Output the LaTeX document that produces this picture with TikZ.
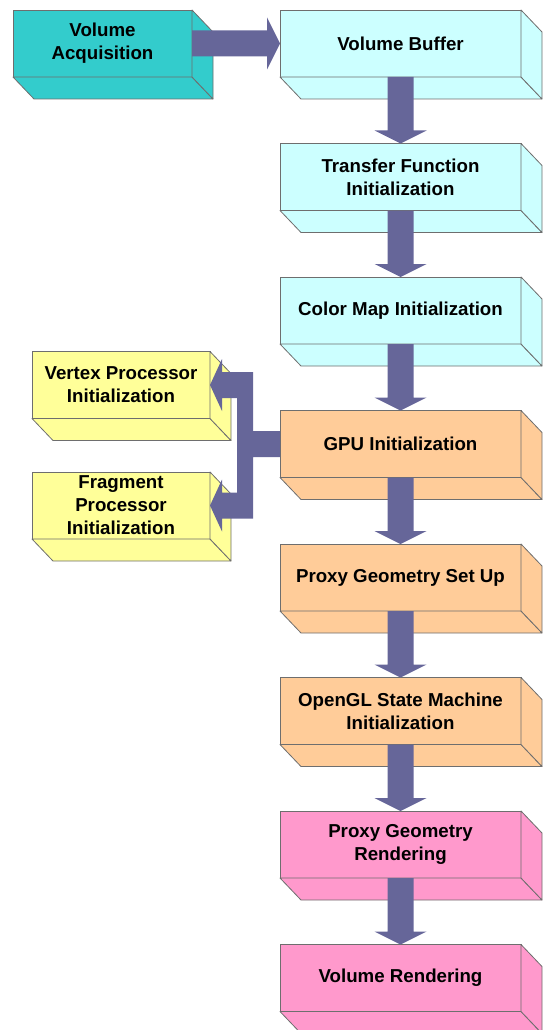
\documentclass[tikz,border=0pt]{standalone}
\usepackage{fontspec}
\setmainfont{Liberation Sans}
\usetikzlibrary{calc}
\definecolor{teal3}{HTML}{33CCCC}
\definecolor{cyan3}{HTML}{CCFFFF}
\definecolor{orng3}{HTML}{FFCC99}
\definecolor{yell3}{HTML}{FFFF99}
\definecolor{pink3}{HTML}{FF99CC}
\definecolor{arrc}{HTML}{666699}
\definecolor{edgec}{HTML}{6E6E6E}
\tikzset{
  box/.style={draw=edgec, line width=0.8pt, inner sep=0pt, outer sep=0pt,
    minimum width=241pt, minimum height=67pt, align=center,
    font=\bfseries\fontsize{18.7}{23}\selectfont},
  lbox/.style={box, minimum width=178pt},
  face/.style={draw=edgec, line width=0.8pt, line join=round},
  arr/.style={fill=arrc},
}
\newcommand\cubefaces[2]{%
  \filldraw[face,fill=#2] (#1.south west) -- (#1.south east)
    -- ([shift={(21pt,-22pt)}]#1.south east) -- ([shift={(21pt,-22pt)}]#1.south west) -- cycle;
  \filldraw[face,fill=#2] (#1.north east) -- ([shift={(21pt,-22pt)}]#1.north east)
    -- ([shift={(21pt,-22pt)}]#1.south east) -- (#1.south east) -- cycle;}
\newcommand\varrow[2]{%
  \fill[arr] let \p1=(#1.south), \p2=(#2.north) in
    (\x1-13pt,\y1) -- (\x1-13pt,\y2+13pt) -- (\x1-26pt,\y2+13pt) -- (\x2,\y2)
    -- (\x1+26pt,\y2+13pt) -- (\x1+13pt,\y2+13pt) -- (\x1+13pt,\y1) -- cycle;}
\begin{document}
\begin{tikzpicture}[x=1pt,y=-1pt]
\useasboundingbox (0,0) rectangle (542,1030);
% nodes
\node[lbox, minimum width=179pt, fill=teal3] (va) at (102.5,43.5) {Volume\\Acquisition};
\node[box, fill=cyan3] (vb) at (400.5,43.5) {Volume Buffer};
\node[box, fill=cyan3] (tf) at (400.5,177) {Transfer Function\\Initialization};
\node[box, fill=cyan3] (cm) at (400.5,310.5) {Color Map Initialization};
\node[box, fill=orng3] (gpu) at (400.5,444) {GPU Initialization};
\node[box, fill=orng3] (pg) at (400.5,577.5) {Proxy Geometry Set Up};
\node[box, fill=orng3] (ogl) at (400.5,711) {OpenGL State Machine\\Initialization};
\node[box, fill=pink3] (pgr) at (400.5,844.5) {Proxy Geometry\\Rendering};
\node[box, fill=pink3] (vr) at (400.5,978) {Volume Rendering};
\node[lbox, fill=yell3] (vp) at (121,385) {Vertex Processor\\Initialization};
\node[lbox, fill=yell3] (fp) at (121,505.5) {Fragment\\Processor\\Initialization};
% 3D faces
\cubefaces{va}{teal3}
\cubefaces{vb}{cyan3}
\cubefaces{tf}{cyan3}
\cubefaces{cm}{cyan3}
\cubefaces{gpu}{orng3}
\cubefaces{pg}{orng3}
\cubefaces{ogl}{orng3}
\cubefaces{pgr}{pink3}
\cubefaces{vr}{pink3}
\cubefaces{vp}{yell3}
\cubefaces{fp}{yell3}
% arrows
\fill[arr] let \p1=(va.east), \p2=(vb.west) in
  (\x1,\y1+13pt) -- (\x2-13pt,\y1+13pt) -- (\x2-13pt,\y1+26pt) -- (\x2,\y1)
  -- (\x2-13pt,\y1-26pt) -- (\x2-13pt,\y1-13pt) -- (\x1,\y1-13pt) -- cycle;
\varrow{vb}{tf}
\varrow{tf}{cm}
\varrow{cm}{gpu}
\varrow{gpu}{pg}
\varrow{pg}{ogl}
\varrow{ogl}{pgr}
\varrow{pgr}{vr}
\fill[arr] let \p1=(gpu.west), \p2=(vp.east), \p3=(fp.east) in
  (\x1,\y1+13pt) -- (\x1-27pt,\y1+13pt) -- (\x1-27pt,\y2+13pt)
  -- (\x2+12pt,\y2+13pt) -- (\x2+12pt,\y2+26pt) -- (\x2,\y2)
  -- (\x2+12pt,\y2-26pt) -- (\x2+12pt,\y2-13pt) -- (\x1-43pt,\y2-13pt)
  -- (\x1-43pt,\y3+13pt) -- (\x3+12pt,\y3+13pt) -- (\x3+12pt,\y3+26pt)
  -- (\x3,\y3) -- (\x3+12pt,\y3-26pt) -- (\x3+12pt,\y3-13pt)
  -- (\x1-27pt,\y3-13pt) -- (\x1-27pt,\y1-13pt) -- (\x1,\y1-13pt) -- cycle;
\end{tikzpicture}
\end{document}
